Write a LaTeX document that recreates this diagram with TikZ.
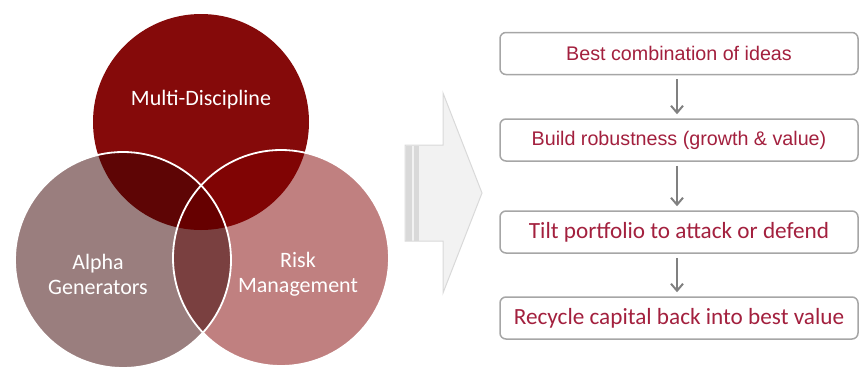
\documentclass[tikz,border=0pt]{standalone}
\usepackage{fontspec}
\setmainfont{Carlito}
\newfontfamily\arialfont{Liberation Sans}
\usetikzlibrary{arrows.meta}

\definecolor{topc}{RGB}{133,10,10}
\definecolor{leftc}{RGB}{154,126,126}
\definecolor{rightc}{RGB}{192,128,128}
\definecolor{topleftc}{RGB}{94,5,5}
\definecolor{toprightc}{RGB}{128,4,4}
\definecolor{leftrightc}{RGB}{122,64,64}
\definecolor{centerc}{RGB}{102,0,0}
\definecolor{arrowfill}{RGB}{242,242,242}
\definecolor{arrowline}{RGB}{217,217,217}
\definecolor{boxline}{RGB}{166,166,166}
\definecolor{boxtext}{RGB}{163,32,62}
\definecolor{linkc}{RGB}{128,128,128}

\tikzset{
  venntext/.style={text=white, align=center, font=\fontsize{22}{25}\selectfont},
  stepbox/.style={draw=boxline, line width=1.5pt, rounded corners=6pt, fill=white,
    minimum width=358pt, minimum height=42pt, text=boxtext, inner sep=0pt},
  arialtext/.style={font=\arialfont\fontsize{19.7}{22}\selectfont},
  calibritext/.style={font=\fontsize{23.2}{26}\selectfont},
  link/.style={draw=linkc, line width=2pt, -{Straight Barb[length=7pt,width=12pt,line width=2pt]}},
}

\begin{document}
\begin{tikzpicture}[x=1pt,y=-1pt]
\useasboundingbox (0,0) rectangle (865,378);

% circle centres
\def\rad{108}
\coordinate (T) at (201,122);
\coordinate (L) at (123,260);
\coordinate (R) at (281,258);

% base discs
\fill[topc] (T) circle (\rad);
\fill[leftc] (L) circle (\rad);
\fill[rightc] (R) circle (\rad);

% pairwise overlaps
\begin{scope}
  \clip (T) circle (\rad);
  \fill[topleftc] (L) circle (\rad);
  \fill[toprightc] (R) circle (\rad);
\end{scope}
\begin{scope}
  \clip (L) circle (\rad);
  \fill[leftrightc] (R) circle (\rad);
\end{scope}
% triple overlap
\begin{scope}
  \clip (T) circle (\rad);
  \clip (L) circle (\rad);
  \fill[centerc] (R) circle (\rad);
\end{scope}

% white rims
\draw[white, line width=1.8pt] (L) circle (\rad);
\draw[white, line width=1.8pt] (R) circle (\rad);

\node[venntext] (multi) at (201,100) {Multi-Discipline};
\node[venntext] (alpha) at (98,274) {Alpha\\Generators};
\node[venntext] (risk) at (298,274) {Risk\\Management};

% striped block arrow
\draw[fill=arrowfill, draw=arrowline, line width=1pt]
  (405,145) -- (443,145) -- (443,93) -- (482,193) -- (443,293) -- (443,241) -- (405,241) -- cycle;
\fill[arrowline] (405.5,145.5) rectangle (412,240.5);
\fill[arrowline] (414,145.5) rectangle (418.5,240.5);

% process steps
\node[stepbox, arialtext] (s1) at (679,53.5) {Best combination of ideas};
\node[stepbox, arialtext] (s2) at (679,140) {Build robustness (growth \& value)};
\node[stepbox, calibritext] (s3) at (679,232) {Tilt portfolio to attack or defend};
\node[stepbox, calibritext] (s4) at (679,318) {Recycle capital back into best value};

\draw[link] ([yshift=-4pt]s1.south -| 677,0) -- ([yshift=4pt]s2.north -| 677,0);
\draw[link] ([yshift=-4pt]s2.south -| 677,0) -- ([yshift=4pt]s3.north -| 677,0);
\draw[link] ([yshift=-4pt]s3.south -| 677,0) -- ([yshift=4pt]s4.north -| 677,0);
\end{tikzpicture}
\end{document}
